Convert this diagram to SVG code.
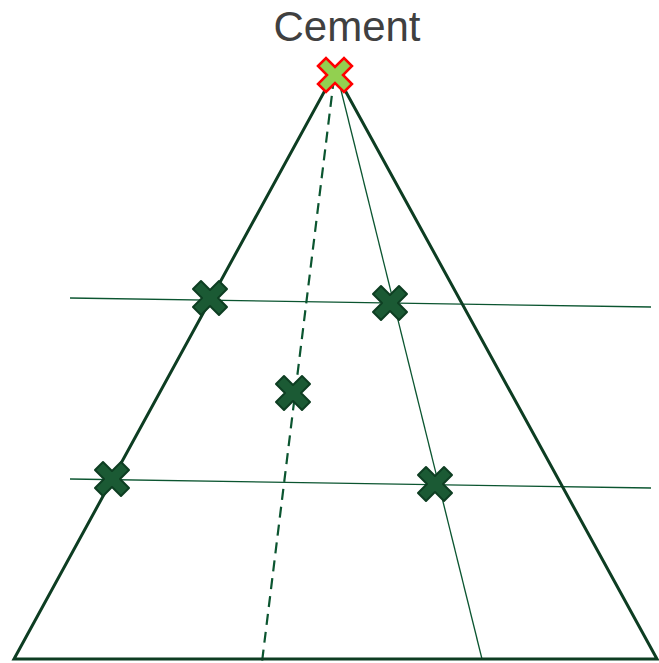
<svg xmlns="http://www.w3.org/2000/svg" width="659" height="663" viewBox="0 0 659 663">
  <style>
    .edge { stroke: #0d3d22; stroke-width: 3; fill: none; stroke-linejoin: miter; }
    .thin { stroke: #0b5530; stroke-width: 1.3; fill: none; }
    .dash { stroke: #0b5530; stroke-width: 2.2; fill: none; stroke-dasharray: 11 7; }
    .label { font-family: "Liberation Sans", Arial, sans-serif; font-size: 42px; fill: #404040; }
    .mark { fill: #1b5a34; stroke: #0e3e22; stroke-width: 2; stroke-linejoin: round; }
    .mark-top { fill: #92d050; stroke: #ff0000; stroke-width: 2.5; stroke-linejoin: miter; }
  </style>
  <defs>
    <!-- heavy X marker used for every plotted point -->
    <polygon id="x" points="-17,-9 -9,-17 0,-8 9,-17 17,-9 8,0 17,9 9,17 0,8 -9,17 -17,9 -8,0"/>
  </defs>
  <rect width="659" height="663" fill="#ffffff"/>

  <text class="label" x="347" y="41" text-anchor="middle">Cement</text>

  <g id="connectors">
    <line class="thin" x1="70" y1="298" x2="651" y2="307"/>
    <line class="thin" x1="70" y1="479" x2="651" y2="488"/>
    <line class="dash" x1="334" y1="78" x2="262" y2="662"/>
    <line class="thin" x1="338" y1="78" x2="482" y2="659"/>
    <polygon class="edge" points="335,72 657,659 14,659"/>
  </g>

  <g id="cement"><use href="#x" class="mark-top" x="335" y="75"/></g>
  <g id="p1"><use href="#x" class="mark" x="210" y="298"/></g>
  <g id="p2"><use href="#x" class="mark" x="390" y="303"/></g>
  <g id="p3"><use href="#x" class="mark" x="293" y="393"/></g>
  <g id="p4"><use href="#x" class="mark" x="112" y="479"/></g>
  <g id="p5"><use href="#x" class="mark" x="435" y="484"/></g>
</svg>
